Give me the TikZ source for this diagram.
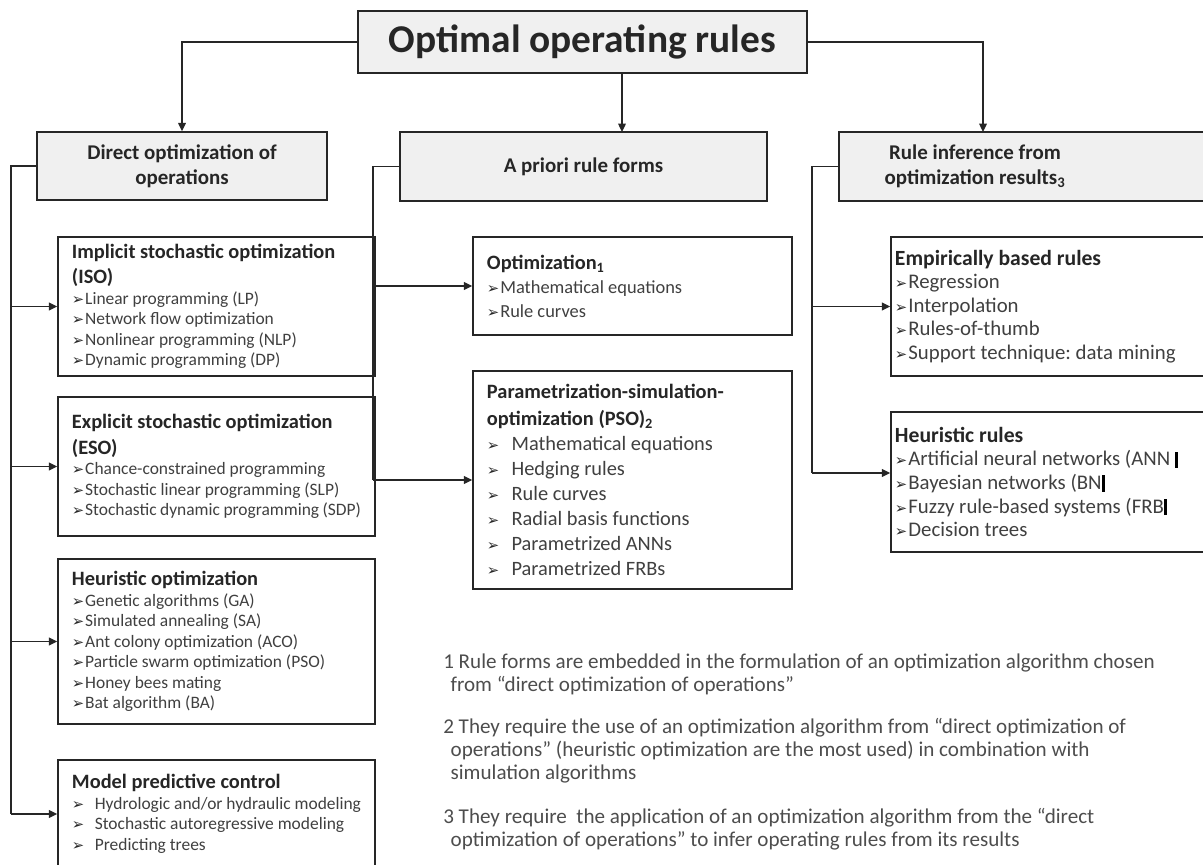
\documentclass[tikz,border=0pt]{standalone}
\usepackage{fontspec}
\setmainfont{Carlito}
\newfontfamily\dingfont{DejaVu Sans}
\usetikzlibrary{arrows.meta}
\usetikzlibrary{calc}
\frenchspacing

\definecolor{headfill}{HTML}{F0F0F0}
\definecolor{linegray}{HTML}{262626}
\definecolor{headtext}{HTML}{262626}
\definecolor{itemtext}{HTML}{404040}
\definecolor{notetext}{HTML}{4D4D4D}

\newcommand{\arr}{{\dingfont\fontsize{10.5}{10}\selectfont\color{black!85}➢}}
\newcommand{\itm}[1]{\arr\hspace{0.05em}#1}
\newcommand{\itmw}[1]{\arr\hspace{0.6em}#1}
\newcommand{\hd}[1]{{\fontsize{14.5}{18}\selectfont\bfseries\color{headtext}#1}}
\newcommand{\cutbar}{{\color{black}\rule[-0.1em]{0.16em}{0.78em}}}

\begin{document}
\begin{tikzpicture}[x=0.025cm,y=-0.025cm,
  topbox/.style={draw=linegray,line width=1pt,fill=headfill,minimum width=11.225cm,minimum height=1.55cm,font=\fontsize{28}{32}\selectfont\bfseries,text=headtext},
  groupbox/.style={draw=linegray,line width=1pt,fill=headfill,minimum height=1.725cm,font=\fontsize{14.9}{18}\selectfont\bfseries,text=headtext,align=center},
  listbox/.style={draw=linegray,line width=0.9pt,fill=white,align=flush left,font=\fontsize{12.4}{14.6}\selectfont,text=itemtext,inner ysep=0pt},
  leftbox/.style={listbox,text width=7.225cm,inner xsep=0.35cm},
  midbox/.style={listbox,text width=7.275cm,inner xsep=0.35cm},
  rightbox/.style={listbox,text width=7.775cm,inner xsep=0.1cm},
  link/.style={line width=1pt,draw=linegray,-{Triangle[length=6pt,width=5.5pt]}},
  bus/.style={line width=1pt,draw=linegray},
  note/.style={align=flush left,anchor=north west,font=\fontsize{15}{16.4}\selectfont,text=notetext,inner sep=0pt}]

\clip (0,0) rectangle (1203,865);

\node[topbox] (rules) at (582.5,42) {Optimal operating rules};

\node[groupbox,minimum width=7.25cm,minimum height=1.7cm] (direct) at (182,166) {Direct optimization of\\operations};
\node[groupbox,minimum width=9.175cm] (apriori) at (583.5,166.5) {A priori rule forms};
\node[groupbox,minimum width=9.175cm] (inference) at (1022.5,166.5) {};
\node[font=\fontsize{14.9}{18}\selectfont\bfseries,text=headtext,align=center] (inferencetext) at (975,166) {Rule inference from\\optimization results\textsubscript{3}};

\node[leftbox,minimum height=3.475cm] (iso) at (216.5,306.5) {\hd{Implicit stochastic optimization}\\[3.5pt]\hd{(ISO)}\\\itm{Linear programming (LP)}\\\itm{Network flow optimization}\\\itm{Nonlinear programming (NLP)}\\\itm{Dynamic programming (DP)}};
\node[leftbox,minimum height=3.475cm] (eso) at (216.5,466.5) {\hd{Explicit stochastic optimization}\\[3.5pt]\hd{(ESO)}\\\itm{Chance-constrained programming}\\\itm{Stochastic linear programming (SLP)}\\\itm{Stochastic dynamic programming (SDP)}};
\node[leftbox,minimum height=4.125cm] (heur) at (216.5,641.5) {\hd{Heuristic optimization}\\\itm{Genetic algorithms (GA)}\\\itm{Simulated annealing (SA)}\\\itm{Ant colony optimization (ACO)}\\\itm{Particle swarm optimization (PSO)}\\\itm{Honey bees mating}\\\itm{Bat algorithm (BA)}};
\node[leftbox,minimum height=2.7cm] (mpc) at (216.5,814) {\hd{Model predictive control}\\\itmw{Hydrologic and/or hydraulic modeling}\\\itmw{Stochastic autoregressive modeling}\\\itmw{Predicting trees}};

\node[midbox,minimum height=2.45cm,font=\fontsize{13.1}{17}\selectfont] (optim) at (632.5,286) {\hd{Optimization\textsubscript{1}}\\\itm{Mathematical equations}\\\itm{Rule curves}};
\node[midbox,minimum height=5.45cm,font=\fontsize{14.5}{17.8}\selectfont] (pso) at (632.5,480) {\hd{Parametrization-simulation-}\\[1pt]\hd{optimization (PSO)\textsubscript{2}}\\\itmw{Mathematical equations}\\\itmw{Hedging rules}\\\itmw{Rule curves}\\\itmw{Radial basis functions}\\\itmw{Parametrized ANNs}\\\itmw{Parametrized FRBs}};

\node[rightbox,minimum height=3.475cm,font=\fontsize{14.8}{16.8}\selectfont] (empir) at (1050.5,306.5) {\hd{\fontsize{15.4}{18}\selectfont Empirically based rules}\\\itm{Regression}\\\itm{Interpolation}\\\itm{Rules-of-thumb}\\\itm{Support technique: data mining}};
\node[rightbox,minimum height=3.5cm,font=\fontsize{14.8}{16.8}\selectfont] (hrules) at (1050.5,482) {\hd{\fontsize{15.4}{18}\selectfont Heuristic rules}\\\itm{Artificial neural networks (ANN \cutbar}\\\itm{Bayesian networks (BN\cutbar}\\\itm{Fuzzy rule-based systems (FRB\cutbar}\\\itm{Decision trees}};

% connectors
\coordinate (midin) at (622,132);
\coordinate (rightin) at (983,132);
\coordinate (lbus) at (11,166);
\coordinate (mbus) at (373,166.5);
\coordinate (rbus) at (812,166.5);
\coordinate (hrin) at ($(hrules.west)+(0,-9)$);

\draw[link] (rules.west) -| (direct.north);
\draw[link] (rules.south -| midin) -- (midin);
\draw[link] (rules.east) -| (rightin);

\draw[bus] (direct.west) -- (lbus) -- (lbus |- mpc.west);
\foreach \b in {iso,eso,heur,mpc}
  \draw[link] (lbus |- \b.west) -- (\b.west);
\draw[bus] (apriori.west) -- (mbus) -- (mbus |- pso.west);
\foreach \b in {optim,pso}
  \draw[link] (mbus |- \b.west) -- (\b.west);
\draw[bus] (inference.west) -- (rbus) -- (rbus |- hrin);
\draw[link] (rbus |- empir.west) -- (empir.west);
\draw[link] (rbus |- hrin) -- (hrin);

% notes
\node[note] (note1) at (443,654) {1 Rule forms are embedded in the formulation of an optimization algorithm chosen\\\hspace*{0.35em}from “direct optimization of operations”};
\node[note] (note2) at (443,718) {2 They require the use of an optimization algorithm from “direct optimization of\\\hspace*{0.35em}operations” (heuristic optimization are the most used) in combination with\\\hspace*{0.35em}simulation algorithms};
\node[note] (note3) at (443,808) {3 They require\ \ the application of an optimization algorithm from the “direct\\\hspace*{0.35em}optimization of operations” to infer operating rules from its results};
\end{tikzpicture}
\end{document}
